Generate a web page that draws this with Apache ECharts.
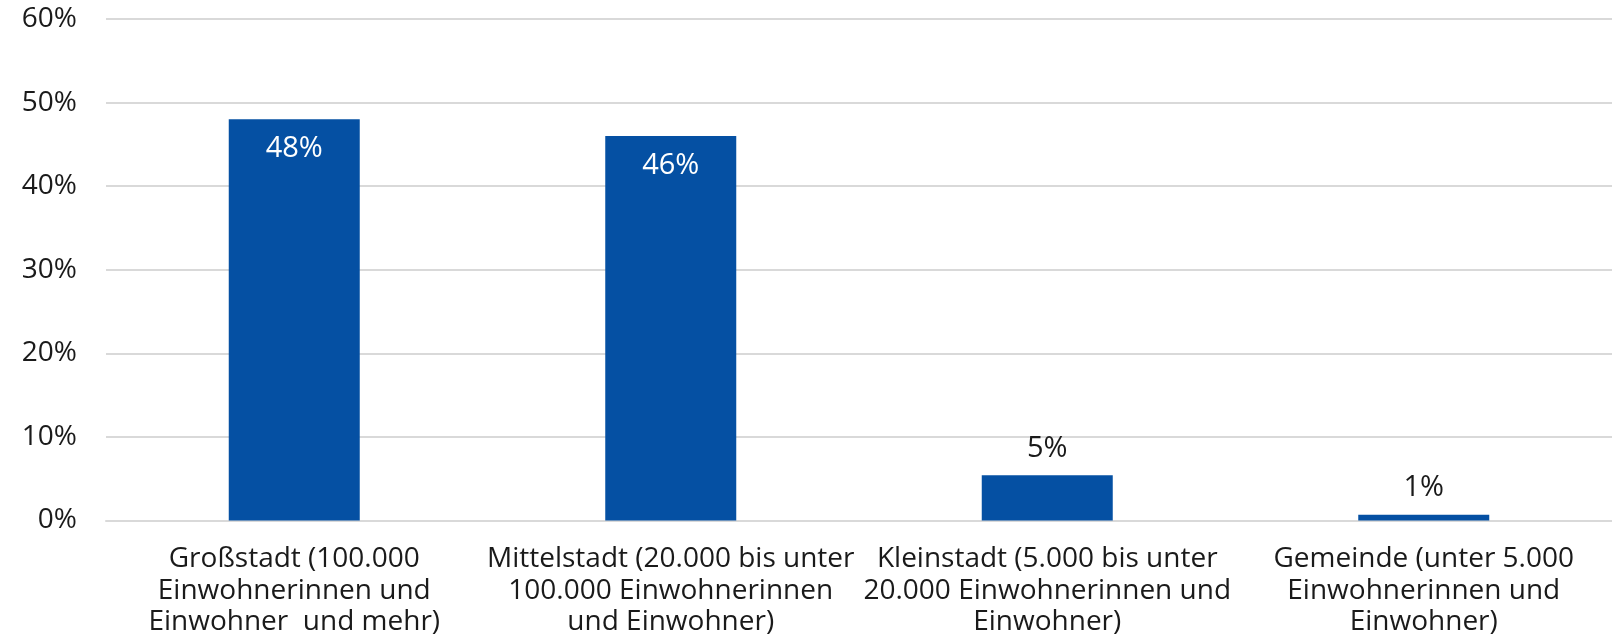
<!DOCTYPE html>
<html>
<head>
<meta charset="utf-8">
<script src="https://cdn.jsdelivr.net/npm/echarts@6/dist/echarts.min.js"></script>
<style>
  html, body { margin: 0; padding: 0; background: #fff; }
  #chart { width: 1612px; height: 638px; }
</style>
</head>
<body>
<div id="chart"></div>
<script>
// Settlement size categories (x axis)
const categories = [
  'Großstadt (100.000\nEinwohnerinnen und\nEinwohner  und mehr)',
  'Mittelstadt (20.000 bis unter\n100.000 Einwohnerinnen\nund Einwohner)',
  'Kleinstadt (5.000 bis unter\n20.000 Einwohnerinnen und\nEinwohner)',
  'Gemeinde (unter 5.000\nEinwohnerinnen und\nEinwohner)'
];
// Share per category, in percent
const shares = [48, 46, 5.4, 0.7];
// Y axis ticks
const yTicks = [0, 10, 20, 30, 40, 50, 60];

const FONT = '"Open Sans", "Noto Sans", sans-serif';
const BAR = '#0550a3';
const TEXT = '#1a1a1a';

const seriesData = shares.map(v => {
  const inside = v > 20;
  return {
    value: v,
    label: inside
      ? { position: 'insideTop', distance: 15, color: '#ffffff' }
      : { position: 'top', distance: 12, color: TEXT }
  };
});

const chart = echarts.init(document.getElementById('chart'), null, { renderer: 'canvas' });
chart.setOption({
  animation: false,
  backgroundColor: '#ffffff',
  textStyle: { fontFamily: FONT },
  grid: { left: 106, top: 19, width: 1510, height: 503, containLabel: false },
  xAxis: {
    type: 'category',
    data: categories,
    axisLine: { show: true, lineStyle: { color: '#d9d9d9', width: 2 } },
    axisTick: { show: false },
    axisLabel: {
      interval: 0,
      margin: 23,
      color: TEXT,
      fontFamily: FONT,
      fontSize: 28,
      lineHeight: 31.5,
      align: 'center'
    }
  },
  yAxis: {
    type: 'value',
    min: yTicks[0],
    max: yTicks[yTicks.length - 1],
    interval: yTicks[1] - yTicks[0],
    axisLine: { show: false },
    axisTick: { show: false },
    splitLine: { lineStyle: { color: '#d9d9d9', width: 2 } },
    axisLabel: {
      margin: 29,
      color: TEXT,
      fontFamily: FONT,
      fontSize: 28,
      formatter: v => v + '%'
    }
  },
  series: [{
    type: 'bar',
    data: seriesData,
    barWidth: 131,
    itemStyle: { color: BAR },
    label: {
      show: true,
      fontFamily: FONT,
      fontSize: 29,
      formatter: p => Math.round(p.value) + '%'
    }
  }]
});
</script>
</body>
</html>
